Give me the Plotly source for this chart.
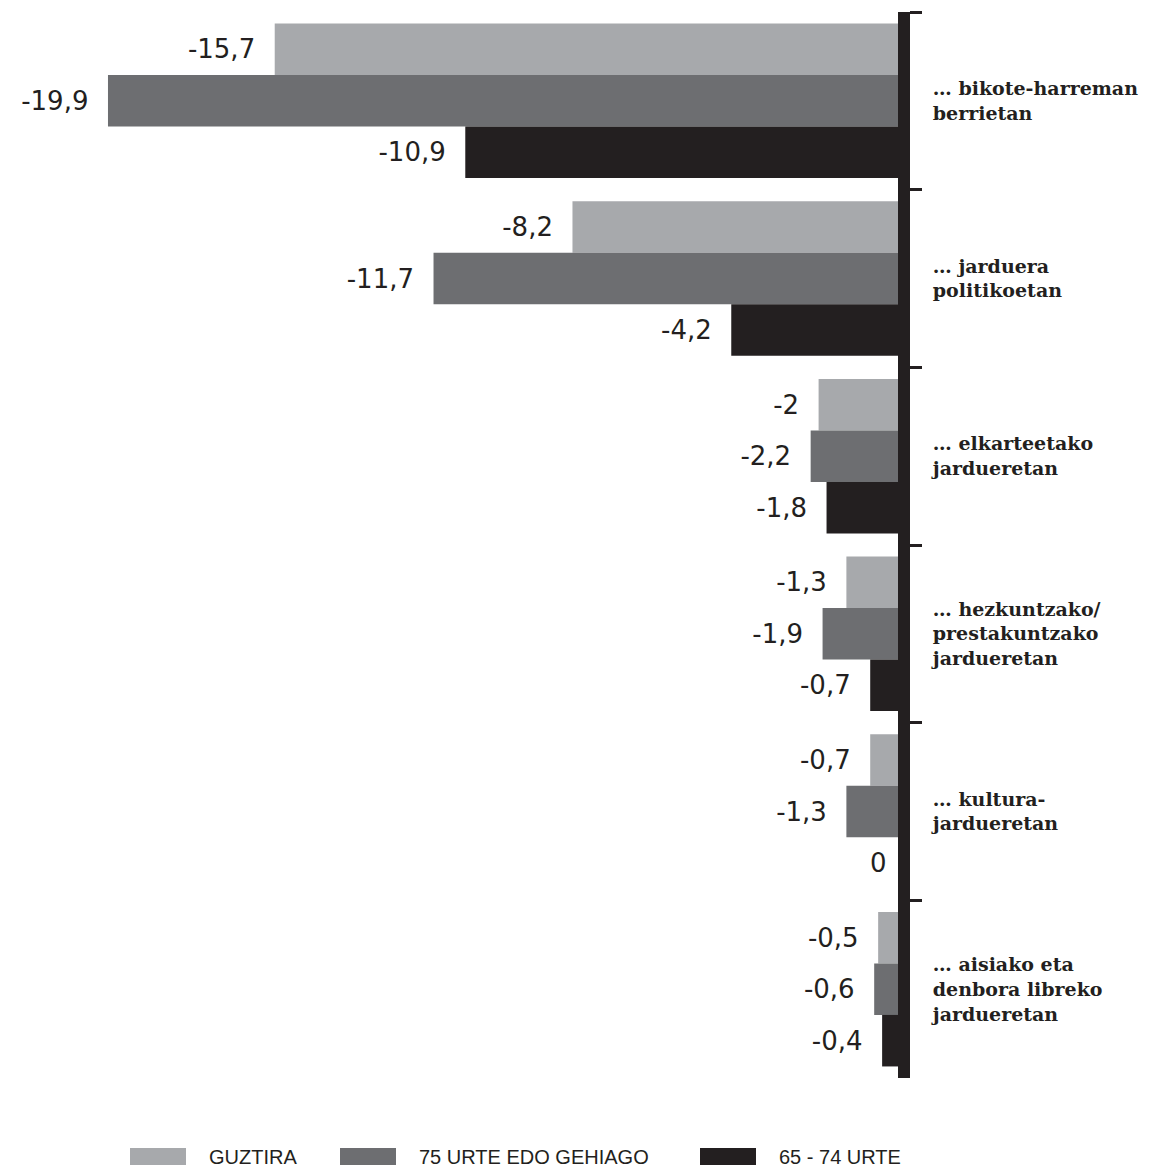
import plotly.graph_objects as go

# ---- data ----
categories = [
    "… bikote-harreman<br>berrietan",
    "… jarduera<br>politikoetan",
    "… elkarteetako<br>jardueretan",
    "… hezkuntzako/<br>prestakuntzako<br>jardueretan",
    "… kultura-<br>jardueretan",
    "… aisiako eta<br>denbora libreko<br>jardueretan",
]
series_names = ["GUZTIRA", "75 URTE EDO GEHIAGO", "65 - 74 URTE"]
guztira = [-15.7, -8.2, -2.0, -1.3, -0.7, -0.5]
urte_75_plus = [-19.9, -11.7, -2.2, -1.9, -1.3, -0.6]
urte_65_74 = [-10.9, -4.2, -1.8, -0.7, 0.0, -0.4]
series_values = [guztira, urte_75_plus, urte_65_74]

colors = ["#a7a9ac", "#6d6e71", "#231f20"]
INK = "#231f20"
NBSP = "\u00a0"
LABEL_FONT = dict(family="DejaVu Sans", size=26, color=INK)

W, H = 1152, 1169
ML, MR, MT, MB = 0, 254, 12, 91
PW = W - ML - MR
PH = H - MT - MB
BARGAP = 0.13


def num(v):
    return ("%g" % v).replace(".", ",")


fig = go.Figure()
n = len(series_values)
for k, (name, vals, col) in enumerate(zip(series_names, series_values, colors)):
    fig.add_trace(go.Bar(
        name=name,
        orientation="h",
        x=vals,
        y=categories,
        marker=dict(color=col, line=dict(width=0)),
        text=[(num(v) + NBSP * 2) if v != 0 else "" for v in vals],
        textposition="outside",
        textfont=LABEL_FONT,
        constraintext="none",
        cliponaxis=False,
        showlegend=False,
        hoverinfo="skip",
    ))
    # zero-length bars: plotly would put the text on the right, so label them here
    for i, v in enumerate(vals):
        if v == 0:
            fig.add_annotation(
                x=v, y=i + (k - (n - 1) / 2) * (1 - BARGAP) / n,
                xref="x", yref="y", text=num(v), showarrow=False,
                xanchor="right", yanchor="middle", xshift=-9,
                font=LABEL_FONT,
            )

# manual legend (wide swatches like the original)
def px_x(p):
    return (p - ML) / PW

def px_y(p):
    return (H - MB - p) / PH

sw_x = [130, 340, 700]
tx_x = [207, 417, 777]
for name, col, sx, tx in zip(series_names, colors, sw_x, tx_x):
    fig.add_shape(type="rect", xref="paper", yref="paper",
                  x0=px_x(sx), x1=px_x(sx + 56), y0=px_y(1165), y1=px_y(1148),
                  fillcolor=col, line=dict(width=0))
    fig.add_annotation(xref="paper", yref="paper", x=px_x(tx), y=px_y(1157),
                       xanchor="left", yanchor="middle", text=name, showarrow=False,
                       font=dict(family="Liberation Sans", size=20, color=INK))

fig.update_layout(
    width=W, height=H,
    margin=dict(l=ML, r=MR, t=MT, b=MB),
    barmode="group",
    bargap=BARGAP,
    bargroupgap=0,
    plot_bgcolor="white",
    paper_bgcolor="white",
    xaxis=dict(range=[-22.62, 0], showgrid=False, zeroline=False,
               showticklabels=False, ticks="", showline=False),
    yaxis=dict(type="category", categoryorder="array", categoryarray=categories,
               range=[5.5, -0.5], side="right", showgrid=False, zeroline=False,
               showline=True, linewidth=12, linecolor=INK,
               ticks="outside", tickson="boundaries", ticklen=12, tickwidth=3,
               tickcolor=INK, ticklabelstandoff=19,
               tickfont=dict(family="DejaVu Serif", size=19, color=INK, weight="bold")),
)

# remove the browser's default 8px body margin so the figure fills the window
fig.write_html("out.html", config={"displayModeBar": False},
               post_script="document.body.style.margin='0';")
